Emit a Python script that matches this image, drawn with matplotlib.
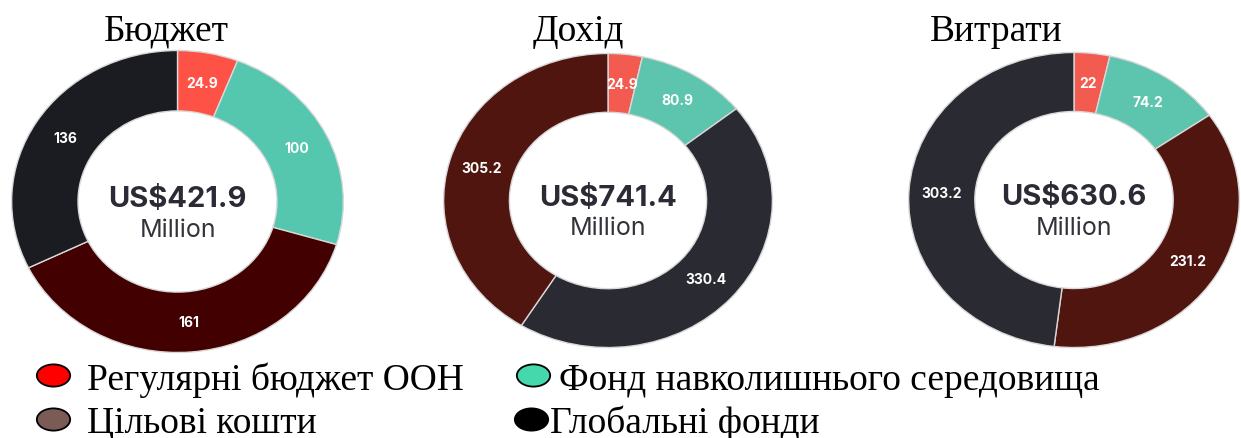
import matplotlib
matplotlib.use("Agg")
import matplotlib.pyplot as plt
from matplotlib.path import Path
from matplotlib.transforms import Affine2D

# ---- data ----
titles = ["Бюджет", "Дохід", "Витрати"]
totals = ["US$421.9", "US$741.4", "US$630.6"]
unit = "Million"

budget_vals = [24.9, 100, 161, 136]
budget_labels = ["24.9", "100", "161", "136"]
income_vals = [24.9, 80.9, 330.4, 305.2]
income_labels = ["24.9", "80.9", "330.4", "305.2"]
expense_vals = [22, 74.2, 231.2, 303.2]
expense_labels = ["22", "74.2", "231.2", "303.2"]

legend_labels = ["Регулярні бюджет ООН", "Фонд навколишнього середовища",
                 "Цільові кошти", "Глобальні фонди"]

# ---- styles ----
budget_colors = ["#FF5246", "#55C7AF", "#430000", "#1B1B22"]
income_colors = ["#F35B50", "#5DC4AE", "#2A2A32", "#511510"]
expense_colors = ["#F35B50", "#5DC4AE", "#511510", "#2A2A32"]
legend_colors = ["#FF0000", "#44D8AC", "#7B5B55", "#000000"]

W, H = 1241, 439
fig = plt.figure(figsize=(W / 100, H / 100), dpi=100)
fig.patch.set_facecolor("white")

# axes boxes in pixels: left, top, width, height
boxes = [(10, 50, 335, 305), (442, 53, 332, 297), (907, 52, 334, 298)]
title_x = [166, 578, 996]
series = [(budget_vals, budget_labels, budget_colors),
          (income_vals, income_labels, income_colors),
          (expense_vals, expense_labels, expense_colors)]

for (l, t, w, h), (vals, labs, cols), ttl, tot, tx in zip(boxes, series, titles, totals, title_x):
    ax = fig.add_axes([l / W, 1 - (t + h) / H, w / W, h / H])
    wedges, texts = ax.pie(vals, labels=labs, colors=cols, startangle=90, counterclock=False,
                           radius=1.0, labeldistance=0.8,
                           wedgeprops=dict(width=0.4, edgecolor="#d8d8d8", linewidth=1.0),
                           textprops=dict(color="white", fontsize=10, fontweight="bold",
                                          family="Inter"))
    for tt in texts:
        tt.set_ha("center")
        tt.set_va("center")
    ax.set_aspect("auto")
    ax.set_xlim(-1.01, 1.01)
    ax.set_ylim(-1.01, 1.01)
    ax.axis("off")
    ax.text(0, -0.03, tot, ha="center", va="baseline", fontsize=21, fontweight="bold",
            family="Inter", color="#2B2B36")
    ax.text(0, -0.23, unit, ha="center", va="baseline", fontsize=18,
            family="Inter", color="#33333C")
    fig.text(tx / W, 1 - 41 / H, ttl, ha="center", va="baseline", fontsize=27,
             family="Liberation Serif", color="black")

# ---- legend ----
lax = fig.add_axes([0, 0, 1, 1])
lax.set_xlim(0, W)
lax.set_ylim(H, 0)
lax.axis("off")
ellipse = Path.unit_circle().transformed(Affine2D().scale(1.5, 1.0))
# marker x, marker y, text x, text baseline
leg_pos = [(53, 376, 87, 390), (533, 376, 559, 390),
           (53, 420, 87, 433), (531, 420, 550, 433)]
for (mx, my, txx, tyy), lab, col in zip(leg_pos, legend_labels, legend_colors):
    lax.plot([mx], [my], marker=ellipse, markersize=24, markerfacecolor=col,
             markeredgecolor="black", markeredgewidth=1.3, linestyle="none")
    lax.text(txx, tyy, lab, ha="left", va="baseline", fontsize=27,
             family="Liberation Serif", color="black")

fig.savefig("out.png", dpi=100)
